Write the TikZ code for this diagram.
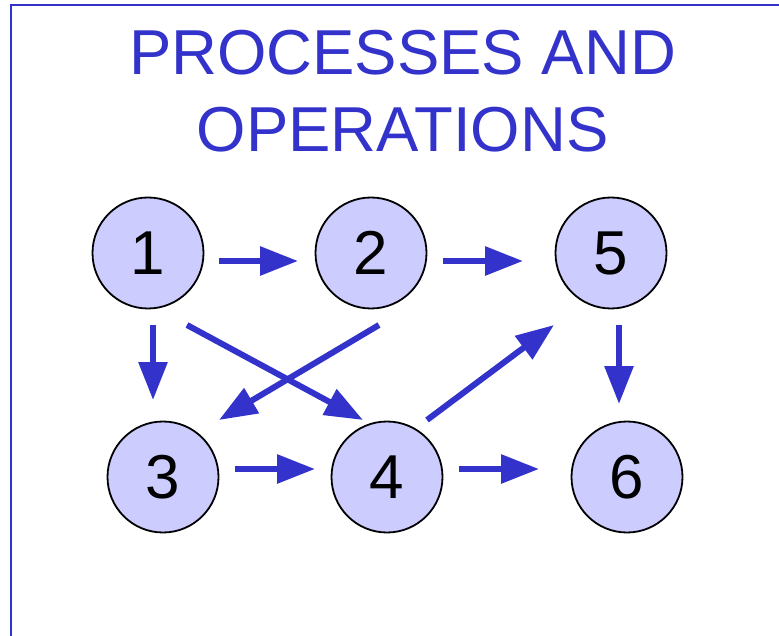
\documentclass[tikz,border=0pt]{standalone}
\usepackage{fontspec}
\setmainfont{Liberation Sans}
\usetikzlibrary{arrows.meta}
\definecolor{flowblue}{RGB}{51,51,204}
\definecolor{statefill}{RGB}{204,204,255}
\begin{document}
\begin{tikzpicture}[x=1pt,y=-1pt,
  state/.style={circle,draw=black,line width=1.8pt,fill=statefill,
    minimum size=111pt,inner sep=0pt,font=\fontsize{62}{62}\selectfont},
  heading/.style={text=flowblue,anchor=base,inner sep=0pt,
    font=\fontsize{63.5}{63.5}\selectfont},
  flow/.style={draw=flowblue,line width=6pt,
    -{Triangle[length=38pt,width=28pt]}}]
\useasboundingbox (0,0) rectangle (779,636);
% slide frame (top and left edges)
\draw[flowblue,line width=2pt] (11,636) -- (11,5) -- (779,5);
% heading
\node[heading] (t1) at (402.5,75) {PROCESSES AND};
\node[heading] (t2) at (402.5,152) {OPERATIONS};
% states
\node[state] (n1) at (148,253) {1};
\node[state] (n2) at (371,253) {2};
\node[state] (n5) at (611,253) {5};
\node[state] (n3) at (163,477) {3};
\node[state] (n4) at (387,477) {4};
\node[state] (n6) at (627,477) {6};
% precedence arrows
\draw[flow] ([shift={(71,8)}]n1.center) -- ([shift={(-73,8)}]n2.center);
\draw[flow] ([shift={(72,8)}]n2.center) -- ([shift={(-88,8)}]n5.center);
\draw[flow] ([shift={(5,72)}]n1.center) -- ([shift={(-10,-77)}]n3.center);
\draw[flow] ([shift={(8,72)}]n2.center) -- ([shift={(56,-57)}]n3.center);
\draw[flow] ([shift={(39,72)}]n1.center) -- ([shift={(-24,-57)}]n4.center);
\draw[flow] ([shift={(40,-57)}]n4.center) -- ([shift={(-57,72)}]n5.center);
\draw[flow] ([shift={(8,72)}]n5.center) -- ([shift={(-8,-73)}]n6.center);
\draw[flow] ([shift={(72,-8)}]n3.center) -- ([shift={(-72,-8)}]n4.center);
\draw[flow] ([shift={(72,-8)}]n4.center) -- ([shift={(-88,-8)}]n6.center);
\end{tikzpicture}
\end{document}
